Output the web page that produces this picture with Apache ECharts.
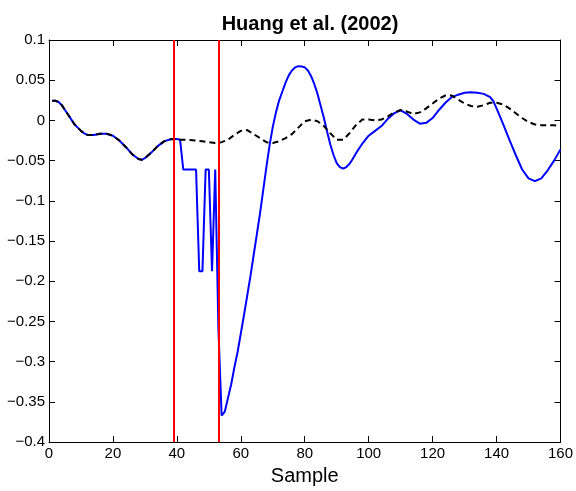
<!DOCTYPE html>
<html>
<head>
<meta charset="utf-8">
<script src="https://cdn.jsdelivr.net/npm/echarts@6/dist/echarts.min.js"></script>
<style>
  html, body { margin: 0; padding: 0; background: #fff; }
  #chart { width: 576px; height: 491px; }
</style>
</head>
<body>
<div id="chart"></div>
<script>
// shared part (both signals identical before the first red marker)
const commonX = [1, 2, 3, 4, 5, 6, 7, 8, 9, 10, 11, 12, 13, 14, 16, 18, 20, 22, 24, 26, 28, 29, 30, 32, 34, 36, 38, 39];
const commonY = [0.0245, 0.0245, 0.023, 0.019, 0.013, 0.007, 0.001, -0.005, -0.009, -0.013, -0.016, -0.018, -0.018, -0.018,
  -0.0165, -0.0165, -0.019, -0.025, -0.033, -0.042, -0.048, -0.049, -0.047, -0.040, -0.032, -0.026, -0.0235, -0.023];

// blue (solid) after sample 39
const blueX = [40, 41, 42, 43, 44, 45, 46, 47, 48, 49, 50, 51, 52, 53, 54, 55, 56, 57, 58, 59, 60, 61, 62, 63, 64, 65, 66, 67,
  68, 69, 70, 71, 72, 73, 74, 75, 76, 77, 78, 79, 80, 81, 82, 83, 84, 85, 86, 87, 88, 89, 90, 91, 92, 93, 94, 95, 96, 97,
  98, 99, 100, 102, 104, 106, 108, 110, 112, 114, 116, 118, 120, 122, 124, 126, 128, 130, 132, 134, 136, 138, 139, 140, 142,
  144, 146, 148, 150, 152, 154, 156, 158, 160];
const blueY = [-0.023, -0.024, -0.061, -0.061, -0.061, -0.061, -0.061, -0.1875, -0.1875, -0.061, -0.061, -0.1875, -0.061,
  -0.26, -0.367, -0.362, -0.345, -0.328, -0.307, -0.288, -0.265, -0.242, -0.218, -0.194, -0.168, -0.142, -0.116, -0.087,
  -0.058, -0.031, -0.008, 0.010, 0.025, 0.036, 0.047, 0.056, 0.062, 0.066, 0.0675, 0.067, 0.066, 0.062, 0.055, 0.045,
  0.033, 0.018, 0.003, -0.014, -0.030, -0.043, -0.053, -0.058, -0.060, -0.058, -0.054, -0.048, -0.041, -0.035, -0.029,
  -0.024, -0.019, -0.013, -0.007, 0.002, 0.009, 0.0125, 0.008, 0.001, -0.004, -0.003, 0.003, 0.013, 0.022, 0.029, 0.032,
  0.0345, 0.035, 0.0345, 0.033, 0.029, 0.024, 0.015, -0.004, -0.024, -0.043, -0.061, -0.072, -0.0755, -0.072, -0.062, -0.050, -0.036];

// black (dashed) after sample 39
const blackX = [40, 42, 44, 46, 48, 50, 52, 54, 56, 58, 60, 62, 64, 66, 68, 70, 72, 74, 76, 78, 80, 82, 84, 86, 88, 90, 92,
  94, 96, 98, 100, 102, 104, 106, 108, 110, 112, 114, 116, 118, 120, 122, 124, 126, 128, 130, 132, 134, 136, 138, 140,
  142, 144, 146, 148, 150, 152, 154, 156, 158, 160];
const blackY = [-0.024, -0.024, -0.0245, -0.025, -0.026, -0.027, -0.028, -0.027, -0.024, -0.018, -0.013, -0.012, -0.017,
  -0.022, -0.027, -0.028, -0.026, -0.022, -0.017, -0.009, -0.001, 0.001, -0.001, -0.007, -0.016, -0.024, -0.024, -0.016,
  -0.006, 0.001, 0.001, 0.000, 0.001, 0.005, 0.010, 0.013, 0.011, 0.008, 0.010, 0.015, 0.021, 0.027, 0.031, 0.031, 0.026,
  0.021, 0.018, 0.017, 0.019, 0.022, 0.022, 0.020, 0.015, 0.009, 0.003, -0.002, -0.005, -0.006, -0.006, -0.006, -0.007];

// red vertical markers
const markers = [39, 53];

const xTicks = { min: 0, max: 160, interval: 20 };
const yTicks = { min: -0.4, max: 0.1, interval: 0.05 };

const zip = (xs, ys) => xs.map((x, i) => [x, ys[i]]);
const common = zip(commonX, commonY);
const blueData = common.concat(zip(blueX, blueY));
const blackData = common.concat(zip(blackX, blackY));

const fontFamily = 'Liberation Sans, Arial, sans-serif';
const fmtY = v => (+v.toFixed(2) + '').replace('-', '\u2212');

const axisLine = { show: true, onZero: false, lineStyle: { color: '#000', width: 1 } };
const axisTick = { show: true, inside: true, length: 6, lineStyle: { color: '#000', width: 1 } };

const chart = echarts.init(document.getElementById('chart'));
chart.setOption({
  animation: false,
  backgroundColor: '#fff',
  title: {
    text: 'Huang et al. (2002)',
    left: 305,
    top: 9,
    textAlign: 'center',
    textStyle: { fontFamily, fontSize: 20, fontWeight: 'bold', color: '#000' }
  },
  grid: { left: 49, right: 15, top: 40, bottom: 48 },
  xAxis: [{
    type: 'value',
    ...xTicks,
    name: 'Sample',
    nameLocation: 'middle',
    nameGap: 22,
    nameTextStyle: { fontFamily, fontSize: 20, color: '#000' },
    axisLine, axisTick,
    axisLabel: { fontFamily, fontSize: 15, color: '#000', margin: 4 },
    splitLine: { show: false }
  }, {
    type: 'value',
    ...xTicks,
    position: 'top',
    axisLine, axisTick,
    axisLabel: { show: false },
    splitLine: { show: false }
  }],
  yAxis: [{
    type: 'value',
    ...yTicks,
    axisLine, axisTick,
    axisLabel: { fontFamily, fontSize: 15, color: '#000', margin: 4, formatter: fmtY },
    splitLine: { show: false }
  }, {
    type: 'value',
    ...yTicks,
    position: 'right',
    axisLine, axisTick,
    axisLabel: { show: false },
    splitLine: { show: false }
  }],
  series: [{
    type: 'line',
    data: blueData,
    showSymbol: false,
    lineStyle: { color: '#0000ff', width: 2 },
    z: 2
  }, {
    type: 'line',
    data: blackData,
    showSymbol: false,
    lineStyle: { color: '#000', width: 2, type: [6, 4] },
    z: 3
  }, {
    type: 'line',
    data: [],
    z: 4,
    markLine: {
      silent: true,
      symbol: 'none',
      label: { show: false },
      lineStyle: { color: '#ff0000', width: 2, type: 'solid' },
      data: markers.map(v => ({ xAxis: v }))
    }
  }]
});
</script>
</body>
</html>
